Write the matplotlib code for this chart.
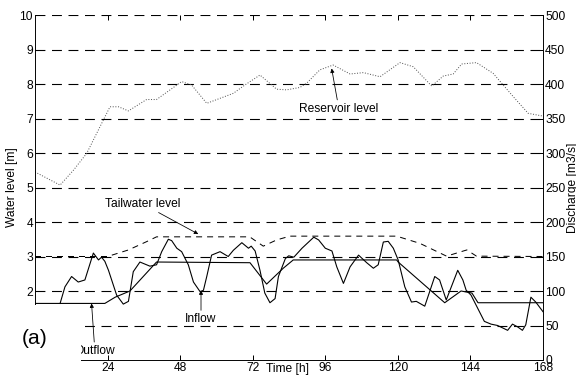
import matplotlib
matplotlib.use('Agg')
import matplotlib.pyplot as plt
from matplotlib.patches import Rectangle

plt.rcParams['font.family'] = ['Liberation Sans', 'DejaVu Sans']
plt.rcParams['font.size'] = 12

# reservoir level [m]
res_h = [0, 8.3, 12.7, 17.1, 20.4, 24.8, 27.6, 30.9, 36.9, 40.2, 48.5, 51.8, 56.8, 65.6, 69.4, 74.4,
         79.9, 83.2, 87.6, 89.8, 94.2, 98.6, 104.2, 108.6, 114.1, 120.7, 125.1, 131.2, 135.0, 138.3,
         141.1, 146.0, 151.5, 158.2, 163.1, 168]
res_v = [5.45, 5.07, 5.5, 5.99, 6.57, 7.34, 7.34, 7.22, 7.55, 7.55, 8.07, 7.97, 7.44, 7.73, 7.97, 8.26,
         7.85, 7.83, 7.9, 8.02, 8.41, 8.55, 8.29, 8.33, 8.21, 8.62, 8.50, 7.94, 8.23, 8.29,
         8.58, 8.62, 8.31, 7.63, 7.15, 7.07]

# tailwater level [m]
tw_h = [0, 24, 30.9, 36.9, 40.2, 71, 75.5, 79.9, 84.3, 119.6, 127.3, 136.1, 142.8, 146, 168]
tw_v = [3.0, 3.0, 3.19, 3.43, 3.57, 3.57, 3.3, 3.48, 3.59, 3.59, 3.38, 3.01, 3.19, 3.01, 3.0]

# inflow [m3/s]
in_h = [8.3, 9.9, 12.1, 14.3, 16.5, 19.3, 21.0, 22.0, 23.1, 24.3, 27.0, 29.2, 30.9, 32.5, 34.7, 38.0,
        40.2, 41.9, 44.1, 45.2, 46.9, 48.5, 50.7, 52.4, 54.6, 55.7, 56.8, 58.4, 61.2, 63.9, 65.6, 68.4,
        70.6, 71.5, 72.8, 74.4, 76.0, 77.7, 79.4, 80.5, 82.8, 83.9, 85.6, 88.3, 92.2, 93.8, 96.0, 98.2,
        99.8, 102.0, 104.2, 107.0, 109.7, 111.9, 113.5, 115.2, 116.8, 118.5, 120.1, 122.3, 124.5, 126.1,
        128.9, 132.2, 133.8, 136.0, 139.8, 141.5, 142.6, 144.2, 146.4, 148.6, 150.8, 153.0, 156.3, 157.9,
        159.6, 161.2, 162.3, 164.0, 165.6, 168.0]
in_v = [82, 106, 121, 113, 116, 155, 145, 149, 143, 130, 94, 81, 85, 128, 142, 136,
        138, 157, 175, 173, 162, 157, 138, 113, 99, 101, 121, 152, 157, 150, 159, 170,
        162, 165, 158, 130, 97, 83, 89, 121, 147, 151, 149, 162, 178, 174, 162, 158,
        135, 111, 135, 152, 141, 133, 138, 171, 172, 162, 145, 106, 84, 85,
        78, 121, 116, 87, 130, 116, 101, 94, 75, 56, 52, 50, 43, 52,
        48, 43, 51, 91, 84, 70]

# outflow [m3/s]
out_h = [0, 23.1, 26.5, 31.4, 40.2, 71.1, 76.6, 82.1, 85.4, 119.6, 120.1, 135.5, 140.9, 144.5, 146.5, 168]
out_v = [82, 82, 91, 100, 142, 141, 110, 133, 145, 145, 142, 83, 100, 97, 83, 83]

fig = plt.figure(figsize=(8, 5.25), dpi=72)
ax = fig.add_axes([35 / 576, 18 / 378, 508 / 576, 345 / 378])
ax2 = ax.twinx()

ax.set_xlim(0, 168)
ax.set_ylim(0, 10)
ax2.set_ylim(0, 500)
ax.set_xticks(range(24, 169, 24))
ax.set_yticks(range(2, 11))
ax2.set_yticks(range(0, 501, 50))

for y in range(1, 11):
    ax.axhline(y, color='k', lw=1.1, ls=(0, (9, 6)), zorder=1)

ax.plot(res_h, res_v, color='#555555', lw=1, ls=':')
ax.plot(tw_h, tw_v, color='k', lw=1, ls=(0, (6, 5)))
ax2.plot(in_h, in_v, color='k', lw=1.1)
ax2.plot(out_h, out_v, color='k', lw=1.1)

for a in (ax, ax2):
    a.spines['top'].set_visible(False)
    a.tick_params(direction='in', length=5, width=1, colors='k', pad=2)
ax.tick_params(top=True)

ax.set_ylabel('Water level [m]', labelpad=1)
ax2.set_ylabel('Discharge [m3/s]', labelpad=2)
ax.set_xlabel('Time [h]')
ax.xaxis.set_label_coords(0.498, -0.010)

arr = dict(arrowstyle='-|>', color='k', lw=0.8, mutation_scale=8, shrinkA=1, shrinkB=0)
ax.annotate('Reservoir level', xy=(98.1, 8.45), xytext=(100.5, 7.28), ha='center', va='center',
            arrowprops=arr)
ax.annotate('Tailwater level', xy=(54.0, 3.65), xytext=(35.7, 4.52), ha='center', va='center',
            arrowprops=arr)
ax2.annotate('Inflow', xy=(54.9, 101), xytext=(54.9, 59), ha='center', va='center',
             arrowprops=arr)
ax2.annotate('Outflow', xy=(18.7, 82), xytext=(19.8, 13), ha='center', va='center',
             arrowprops=arr)

fig.add_artist(Rectangle((0, 0), 81 / 576, (378 - 305) / 378, transform=fig.transFigure,
                         facecolor='white', edgecolor='none', zorder=5))
fig.text(35 / 576, 1 - 338 / 378, '(a)', fontsize=21, ha='center', va='center', zorder=6)

fig.savefig('out.png', dpi=72)
